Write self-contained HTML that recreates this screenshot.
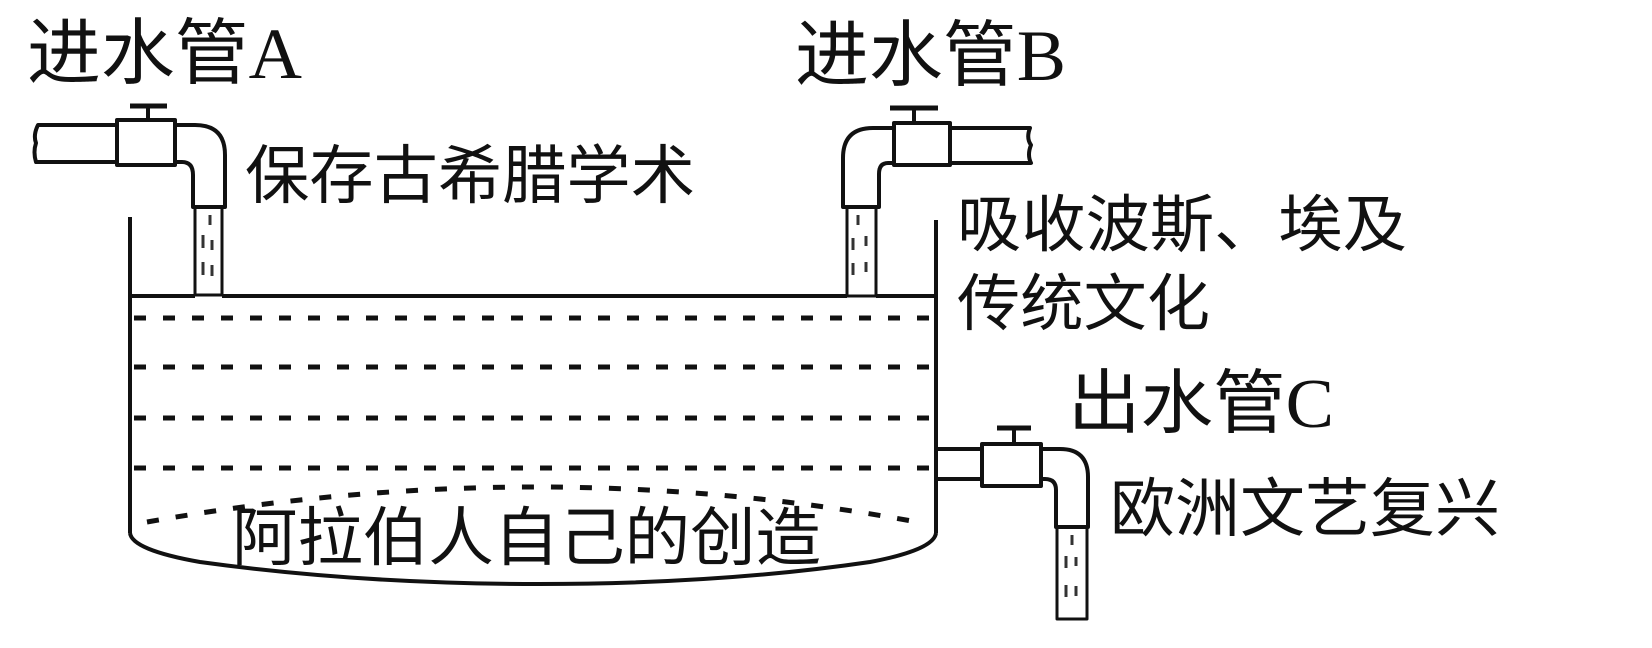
<!DOCTYPE html>
<html><head><meta charset="utf-8"><style>
html,body{margin:0;padding:0;background:#fff;}
svg{display:block;}
text{font-family:"Liberation Serif","Noto Sans CJK SC",sans-serif;fill:#111;}
</style></head><body>
<svg width="1652" height="648" viewBox="0 0 1652 648" xmlns="http://www.w3.org/2000/svg">
<g fill="none" stroke="#111" stroke-width="4" stroke-linejoin="round">
<!-- Pipe A -->
<path d="M117,125 H38 Q33,135 36,143 Q33,152 36,162 H117"/>
<rect x="117" y="120" width="58" height="45" fill="#fff"/>
<line x1="130" y1="106" x2="167" y2="106" stroke-width="5"/>
<line x1="148" y1="106" x2="148" y2="120"/>
<path d="M175,125 H195 Q225,125 225,155 V207 H193 V175 Q193,162 182,162 H175"/>
<rect x="195" y="207" width="27" height="88" stroke-width="3"/>
<!-- Pipe B -->
<path d="M950,128 H1030 Q1026,138 1031,145 Q1027,155 1031,163 H950"/>
<rect x="894" y="123" width="56" height="42" fill="#fff"/>
<line x1="890" y1="108" x2="938" y2="108" stroke-width="5"/>
<line x1="914" y1="108" x2="914" y2="123"/>
<path d="M894,128 H873 Q843,128 843,158 V207 H879 V174 Q879,163 888,163 H894"/>
<rect x="847" y="207" width="29" height="89" stroke-width="3"/>
<!-- Tank -->
<line x1="130" y1="217" x2="130" y2="533"/>
<line x1="936" y1="220" x2="936" y2="533"/>
<path d="M130,533 Q132,550 200,562 Q360,584 539,584 Q720,584 870,562 Q934,550 936,533"/>
<line x1="130" y1="296" x2="195" y2="296"/>
<line x1="222" y1="296" x2="847" y2="296"/>
<line x1="876" y1="296" x2="936" y2="296"/>
<g stroke-dasharray="12 17" stroke-width="5">
<line x1="134" y1="318" x2="934" y2="318"/>
<line x1="134" y1="367" x2="934" y2="367"/>
<line x1="134" y1="418" x2="934" y2="418"/>
<line x1="134" y1="468" x2="934" y2="468"/>
<path d="M147,522 Q540,452 917,522"/>
</g>
<!-- Pipe C -->
<path d="M936,449 H982 M936,479 H982"/>
<rect x="982" y="444" width="59" height="42" fill="#fff"/>
<line x1="997" y1="428" x2="1031" y2="428" stroke-width="5"/>
<line x1="1014" y1="428" x2="1014" y2="444"/>
<path d="M1041,449 H1060 Q1088,449 1088,477 V527 H1056 V490 Q1056,479 1045,479 H1041"/>
<rect x="1057" y="527" width="30" height="92" stroke-width="3"/>
</g>
<!-- water drops -->
<g stroke="#333" stroke-width="3">
<line x1="210" y1="215" x2="210" y2="225"/><line x1="203" y1="235" x2="203" y2="248"/><line x1="212" y1="240" x2="212" y2="250"/><line x1="203" y1="262" x2="203" y2="275"/><line x1="212" y1="265" x2="212" y2="276"/>
<line x1="858" y1="215" x2="858" y2="225"/><line x1="853" y1="238" x2="853" y2="250"/><line x1="866" y1="236" x2="866" y2="246"/><line x1="853" y1="263" x2="853" y2="275"/><line x1="866" y1="262" x2="866" y2="272"/>
<line x1="1072" y1="535" x2="1072" y2="545"/><line x1="1066" y1="556" x2="1066" y2="568"/><line x1="1076" y1="557" x2="1076" y2="566"/><line x1="1066" y1="585" x2="1066" y2="597"/><line x1="1076" y1="586" x2="1076" y2="596"/>
</g>
<text x="27" y="78" font-size="72" textLength="275" lengthAdjust="spacingAndGlyphs">进水管A</text>
<text x="795" y="80" font-size="72" textLength="271" lengthAdjust="spacingAndGlyphs">进水管B</text>
<text x="245" y="198" font-size="64" textLength="450" lengthAdjust="spacingAndGlyphs">保存古希腊学术</text>
<text x="957" y="246" font-size="62" textLength="450" lengthAdjust="spacingAndGlyphs">吸收波斯、埃及</text>
<text x="957" y="325" font-size="62" textLength="253" lengthAdjust="spacingAndGlyphs">传统文化</text>
<text x="1068" y="427" font-size="70" textLength="266" lengthAdjust="spacingAndGlyphs">出水管C</text>
<text x="1110" y="531" font-size="64" textLength="390" lengthAdjust="spacingAndGlyphs">欧洲文艺复兴</text>
<text x="232" y="560" font-size="64" textLength="589" lengthAdjust="spacingAndGlyphs">阿拉伯人自己的创造</text>
</svg>
</body></html>
